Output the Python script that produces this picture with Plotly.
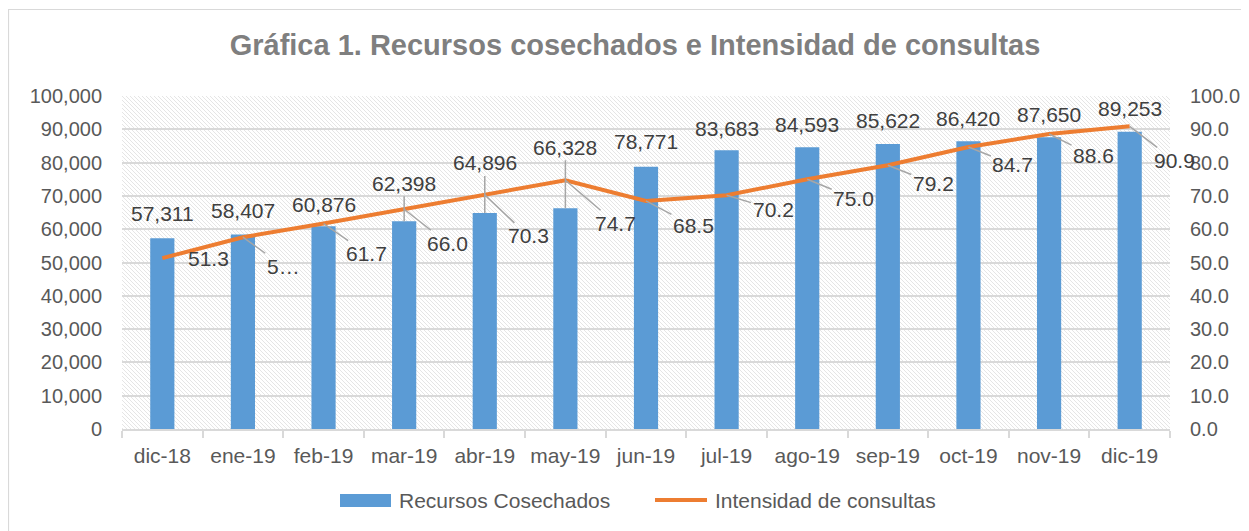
import base64
import plotly.graph_objects as go

# ---------------- data ----------------
categories = ["dic-18", "ene-19", "feb-19", "mar-19", "abr-19", "may-19", "jun-19",
              "jul-19", "ago-19", "sep-19", "oct-19", "nov-19", "dic-19"]
recursos = [57311, 58407, 60876, 62398, 64896, 66328, 78771,
            83683, 84593, 85622, 86420, 87650, 89253]
intensidad = [51.3, 57.6, 61.7, 66.0, 70.3, 74.7, 68.5,
              70.2, 75.0, 79.2, 84.7, 88.6, 90.9]
intensidad_label_text = ["51.3", "5…", "61.7", "66.0", "70.3", "74.7", "68.5",
                         "70.2", "75.0", "79.2", "84.7", "88.6", "90.9"]
left_tickvals = [0, 10000, 20000, 30000, 40000, 50000, 60000, 70000, 80000, 90000, 100000]
right_tickvals = [0, 10, 20, 30, 40, 50, 60, 70, 80, 90, 100]
series_names = ["Recursos Cosechados", "Intensidad de consultas"]

# ---------------- styling (label placement in pixels) ----------------
bar_label_lift = [25, 24, 22, 38, 50, 61, 25, 22, 23, 23, 23, 23, 23]
line_label_dx = [24, 24, 23, 23, 23, 30, 27, 26, 26, 25, 24, 24, 24]
line_label_dy = [0, 29, 30, 34, 41, 43, 25, 14, 19, 18, 18, 22, 34]

# page offset of the figure inside the browser window (body margin)
OFF = 8
W, H = 1249 - OFF, 531 - OFF
ML, MT = 122 - OFF, 96 - OFF
PR, PB = 1170 - OFF, 429 - OFF          # plot right / bottom in figure px
MR, MB = W - PR, H - PB
PW, PH = PR - ML, PB - MT


def px_x(page_x):
    return (page_x - OFF - ML) / PW


def px_y(page_y):
    return (PB - (page_y - OFF)) / PH


FONT = "Liberation Sans, Arial, sans-serif"
AXIS_GRAY = "#595959"
LABEL_GRAY = "#404040"
GRID = "#D9D9D9"
LEADER = "#A6A6A6"
BLUE = "#5B9BD5"
ORANGE = "#ED7D31"
LBL = 21

CHAR_EM = {".": 0.278, ",": 0.278, "…": 1.0}


def text_width(s, size):
    return sum(CHAR_EM.get(ch, 0.556) for ch in s) * size


fig = go.Figure()
fig.add_trace(go.Bar(
    x=categories, y=recursos, name=series_names[0],
    marker=dict(color=BLUE, line=dict(width=0)), width=0.3, yaxis="y",
    showlegend=False,
))
fig.add_trace(go.Scatter(
    x=categories, y=intensidad, name=series_names[1],
    mode="lines", line=dict(color=ORANGE, width=4), yaxis="y2",
    showlegend=False,
))

annotations = []
for c, v, lift in zip(categories, recursos, bar_label_lift):
    txt = f"{v:,}"
    if lift > 30:
        annotations.append(dict(
            x=c, y=v, xref="x", yref="y", text=txt, showarrow=True,
            ax=0, ay=-lift, arrowhead=0, arrowwidth=1.5, arrowcolor=LEADER,
            standoff=0, font=dict(family=FONT, size=LBL, color=LABEL_GRAY),
        ))
    else:
        annotations.append(dict(
            x=c, y=v, xref="x", yref="y", text=txt, showarrow=False,
            yshift=lift, yanchor="middle",
            font=dict(family=FONT, size=LBL, color=LABEL_GRAY),
        ))

for c, v, txt, dx, dy in zip(categories, intensidad, intensidad_label_text,
                             line_label_dx, line_label_dy):
    if dy < 8:
        annotations.append(dict(
            x=c, y=v, xref="x", yref="y2", text=txt, showarrow=False,
            xanchor="left", yanchor="middle", xshift=dx, yshift=-dy,
            font=dict(family=FONT, size=LBL, color=LABEL_GRAY),
        ))
    else:
        annotations.append(dict(
            x=c, y=v, xref="x", yref="y2", text=txt, showarrow=True,
            ax=dx + text_width(txt, LBL) / 2, ay=dy,
            arrowhead=0, arrowwidth=1.5, arrowcolor=LEADER, standoff=0,
            font=dict(family=FONT, size=LBL, color=LABEL_GRAY),
        ))

# manual legend (wide bar swatch like the original)
annotations.append(dict(
    x=px_x(397), y=px_y(500), xref="paper", yref="paper", text=series_names[0],
    showarrow=False, xanchor="left", yanchor="middle",
    font=dict(family=FONT, size=LBL, color=AXIS_GRAY),
))
annotations.append(dict(
    x=px_x(713), y=px_y(500), xref="paper", yref="paper", text=series_names[1],
    showarrow=False, xanchor="left", yanchor="middle",
    font=dict(family=FONT, size=LBL, color=AXIS_GRAY),
))

shapes = [
    dict(type="rect", xref="paper", yref="paper",
         x0=px_x(340), x1=px_x(391), y0=px_y(507), y1=px_y(494),
         line=dict(width=0), fillcolor=BLUE),
    dict(type="line", xref="paper", yref="paper",
         x0=px_x(655), x1=px_x(707), y0=px_y(500), y1=px_y(500),
         line=dict(color=ORANGE, width=4)),
    dict(type="rect", xref="paper", yref="paper",
         x0=px_x(8.5), x1=px_x(1260), y0=px_y(560), y1=px_y(9.5),
         line=dict(color=GRID, width=1.2), fillcolor="rgba(0,0,0,0)", layer="below"),
]

# hatched plot-area background
svg = (
    f'<svg xmlns="http://www.w3.org/2000/svg" width="{PW}" height="{PH}" '
    f'viewBox="0 0 {PW} {PH}">'
    '<defs><pattern id="h" width="4" height="4" patternUnits="userSpaceOnUse">'
    '<path d="M-1,-1 L5,5 M-1,3 L1,5 M3,-1 L5,1" stroke="#DADADA" stroke-width="0.7"/>'
    '</pattern></defs>'
    '<rect width="100%" height="100%" fill="#FFFFFF"/>'
    '<rect width="100%" height="100%" fill="url(#h)"/></svg>'
)
src = "data:image/svg+xml;base64," + base64.b64encode(svg.encode()).decode()

fig.update_layout(
    width=W, height=H,
    margin=dict(l=ML, r=MR, t=MT, b=MB, autoexpand=False),
    paper_bgcolor="#FFFFFF", plot_bgcolor="rgba(0,0,0,0)",
    font=dict(family=FONT, size=20, color=AXIS_GRAY),
    title=dict(
        text="Gráfica 1. Recursos cosechados e Intensidad de consultas",
        x=(635 - OFF) / W, xanchor="center", y=1 - (45 - OFF) / H, yanchor="middle",
        font=dict(family=FONT, size=29, color="#7F7F7F", weight="bold"),
    ),
    xaxis=dict(
        type="category", range=[-0.5, len(categories) - 0.5],
        showline=True, linecolor=GRID, linewidth=1.5,
        ticks="outside", tickson="boundaries", ticklen=7, tickcolor=GRID, tickwidth=1.5,
        showgrid=False, tickfont=dict(family=FONT, size=LBL, color=AXIS_GRAY),
        ticklabelstandoff=7, tickangle=0,
    ),
    yaxis=dict(
        range=[0, 100000], tickvals=left_tickvals, tickformat=",",
        showgrid=True, gridcolor=GRID, gridwidth=1.5, zeroline=False,
        showline=False, ticks="", ticklabelstandoff=19,
        tickfont=dict(family=FONT, size=20, color=AXIS_GRAY),
    ),
    yaxis2=dict(
        range=[0, 100], tickvals=right_tickvals, tickformat=".1f",
        overlaying="y", side="right", showgrid=False, zeroline=False,
        showline=False, ticks="", ticklabelstandoff=19,
        tickfont=dict(family=FONT, size=20, color=AXIS_GRAY),
    ),
    showlegend=False,
    annotations=annotations,
    shapes=shapes,
    images=[dict(
        source=src, xref="paper", yref="paper", x=0, y=1, sizex=1, sizey=1,
        xanchor="left", yanchor="top", sizing="stretch", layer="below",
    )],
)

fig.write_html("out.html")
